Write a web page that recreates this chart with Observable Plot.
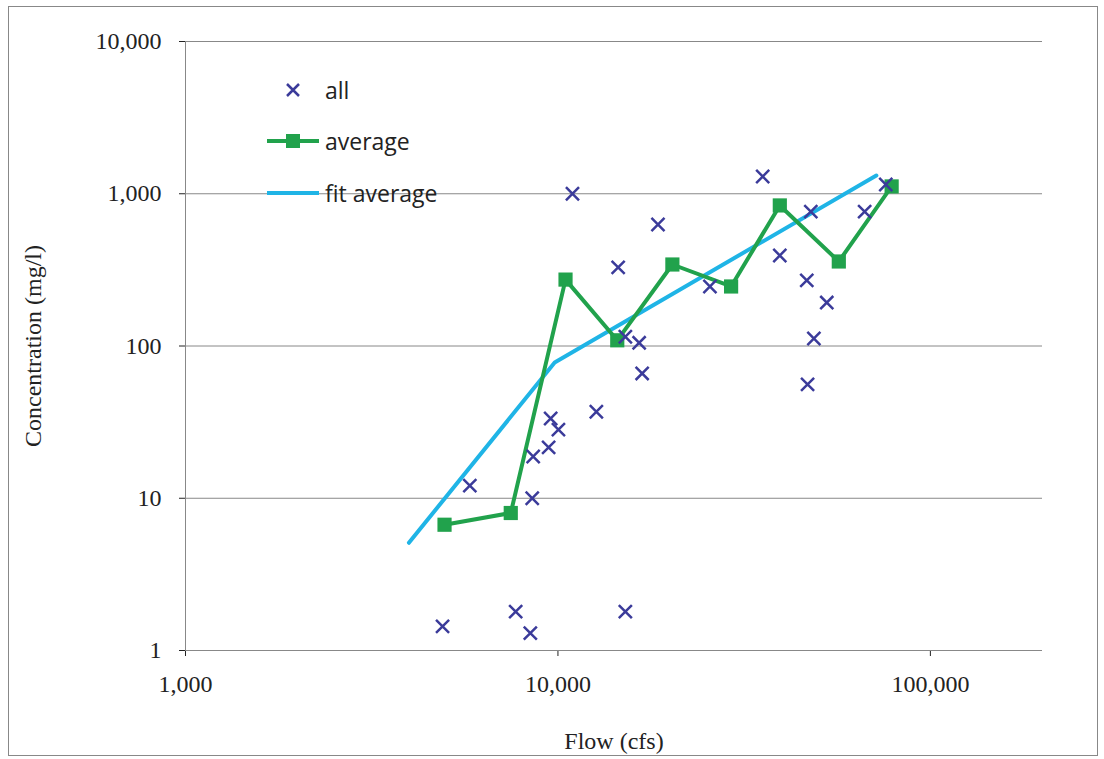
<!DOCTYPE html>
<html><head><meta charset="utf-8">
<script src="https://cdn.jsdelivr.net/npm/d3@7"></script>
<script src="https://cdn.jsdelivr.net/npm/@observablehq/plot@0.6"></script>
<style>
body{margin:0;background:#fff;}
#wrap{position:relative;width:1104px;height:759px;}
#box{position:absolute;left:8px;top:6px;width:1090px;height:750px;border:1.5px solid #888;box-sizing:border-box;pointer-events:none;}
#legend{position:absolute;left:265px;top:64px;font-family:"Open Sans",sans-serif;font-size:23px;color:#222;}
#legend div{height:51.5px;display:flex;align-items:center;}
#legend svg{width:56px;height:30px;margin-right:4px;}
#chart svg text{font-family:"Liberation Serif",serif;}
</style></head><body>
<div id="wrap"><div id="chart"></div><div id="box"></div>
<div id="legend">
<div><svg viewBox="0 0 56 30"><path d="M22 9l12 12M34 9L22 21" stroke="#3b3b9a" stroke-width="2.5"/></svg>all</div>
<div><svg viewBox="0 0 56 30"><line x1="2" y1="15" x2="54" y2="15" stroke="#21a24c" stroke-width="4"/><rect x="21" y="8" width="14" height="14" fill="#21a24c"/></svg>average</div>
<div><svg viewBox="0 0 56 30"><line x1="2" y1="15" x2="54" y2="15" stroke="#1fb4e6" stroke-width="4"/></svg>fit average</div>
</div></div>
<script>
const allFlow = [4900,5800,7700,8430,8530,8580,9440,9560,10030,10940,12680,14510,15170,15170,16520,16830,18560,25590,35460,39420,46570,46800,47750,48660,52700,66600,75900];
const allConc = [1.44,12.1,1.8,1.3,10,18.8,21.6,33.4,28.2,1000,37,328,115,1.8,105,66,628,246,1298,393,270,55.9,764,112,193,764,1150];
const avgFlow = [4960,7470,10480,14430,20290,29170,39420,56770,78700];
const avgConc = [6.7,8.0,273,109,343,246,838,359,1117];
const fitFlow = [3980,9800,71600];
const fitConc = [5.1,78,1318];
const xTicks = [1000,10000,100000];
const yTicks = [1,10,100,1000,10000];

const all = allFlow.map((x,i)=>({x,y:allConc[i]}));
const avg = avgFlow.map((x,i)=>({x,y:avgConc[i]}));
const fit = fitFlow.map((x,i)=>({x,y:fitConc[i]}));
const fmt = d3.format(",");

const plot = Plot.plot({
  width:1104, height:759,
  marginLeft:185, marginRight:62, marginTop:41, marginBottom:109,
  style:{fontFamily:"Liberation Serif", fontSize:"24px", color:"#222"},
  x:{type:"log", domain:[1000,200000], ticks:xTicks, tickFormat:fmt, label:"Flow (cfs)", labelAnchor:"center", labelArrow:"none", labelOffset:98, tickSize:6, tickPadding:18},
  y:{type:"log", domain:[1,10000], ticks:yTicks, tickFormat:fmt, label:"Concentration (mg/l)", labelAnchor:"center", labelArrow:"none", labelOffset:162, tickSize:6, tickPadding:18},
  marks:[
    Plot.gridY(yTicks,{stroke:"#888",strokeOpacity:1,strokeWidth:1}),
    Plot.ruleX([1000],{stroke:"#888"}),
    Plot.ruleY([1],{stroke:"#888"}),
    Plot.line(fit,{x:"x",y:"y",stroke:"#1fb4e6",strokeWidth:4}),
    Plot.line(avg,{x:"x",y:"y",stroke:"#21a24c",strokeWidth:4}),
    Plot.dot(avg,{x:"x",y:"y",symbol:"square",r:8,fill:"#21a24c"}),
    Plot.dot(all,{x:"x",y:"y",symbol:"times",r:6,stroke:"#3b3b9a",strokeWidth:2.5})
  ]
});
document.getElementById("chart").appendChild(plot);
</script></body></html>
